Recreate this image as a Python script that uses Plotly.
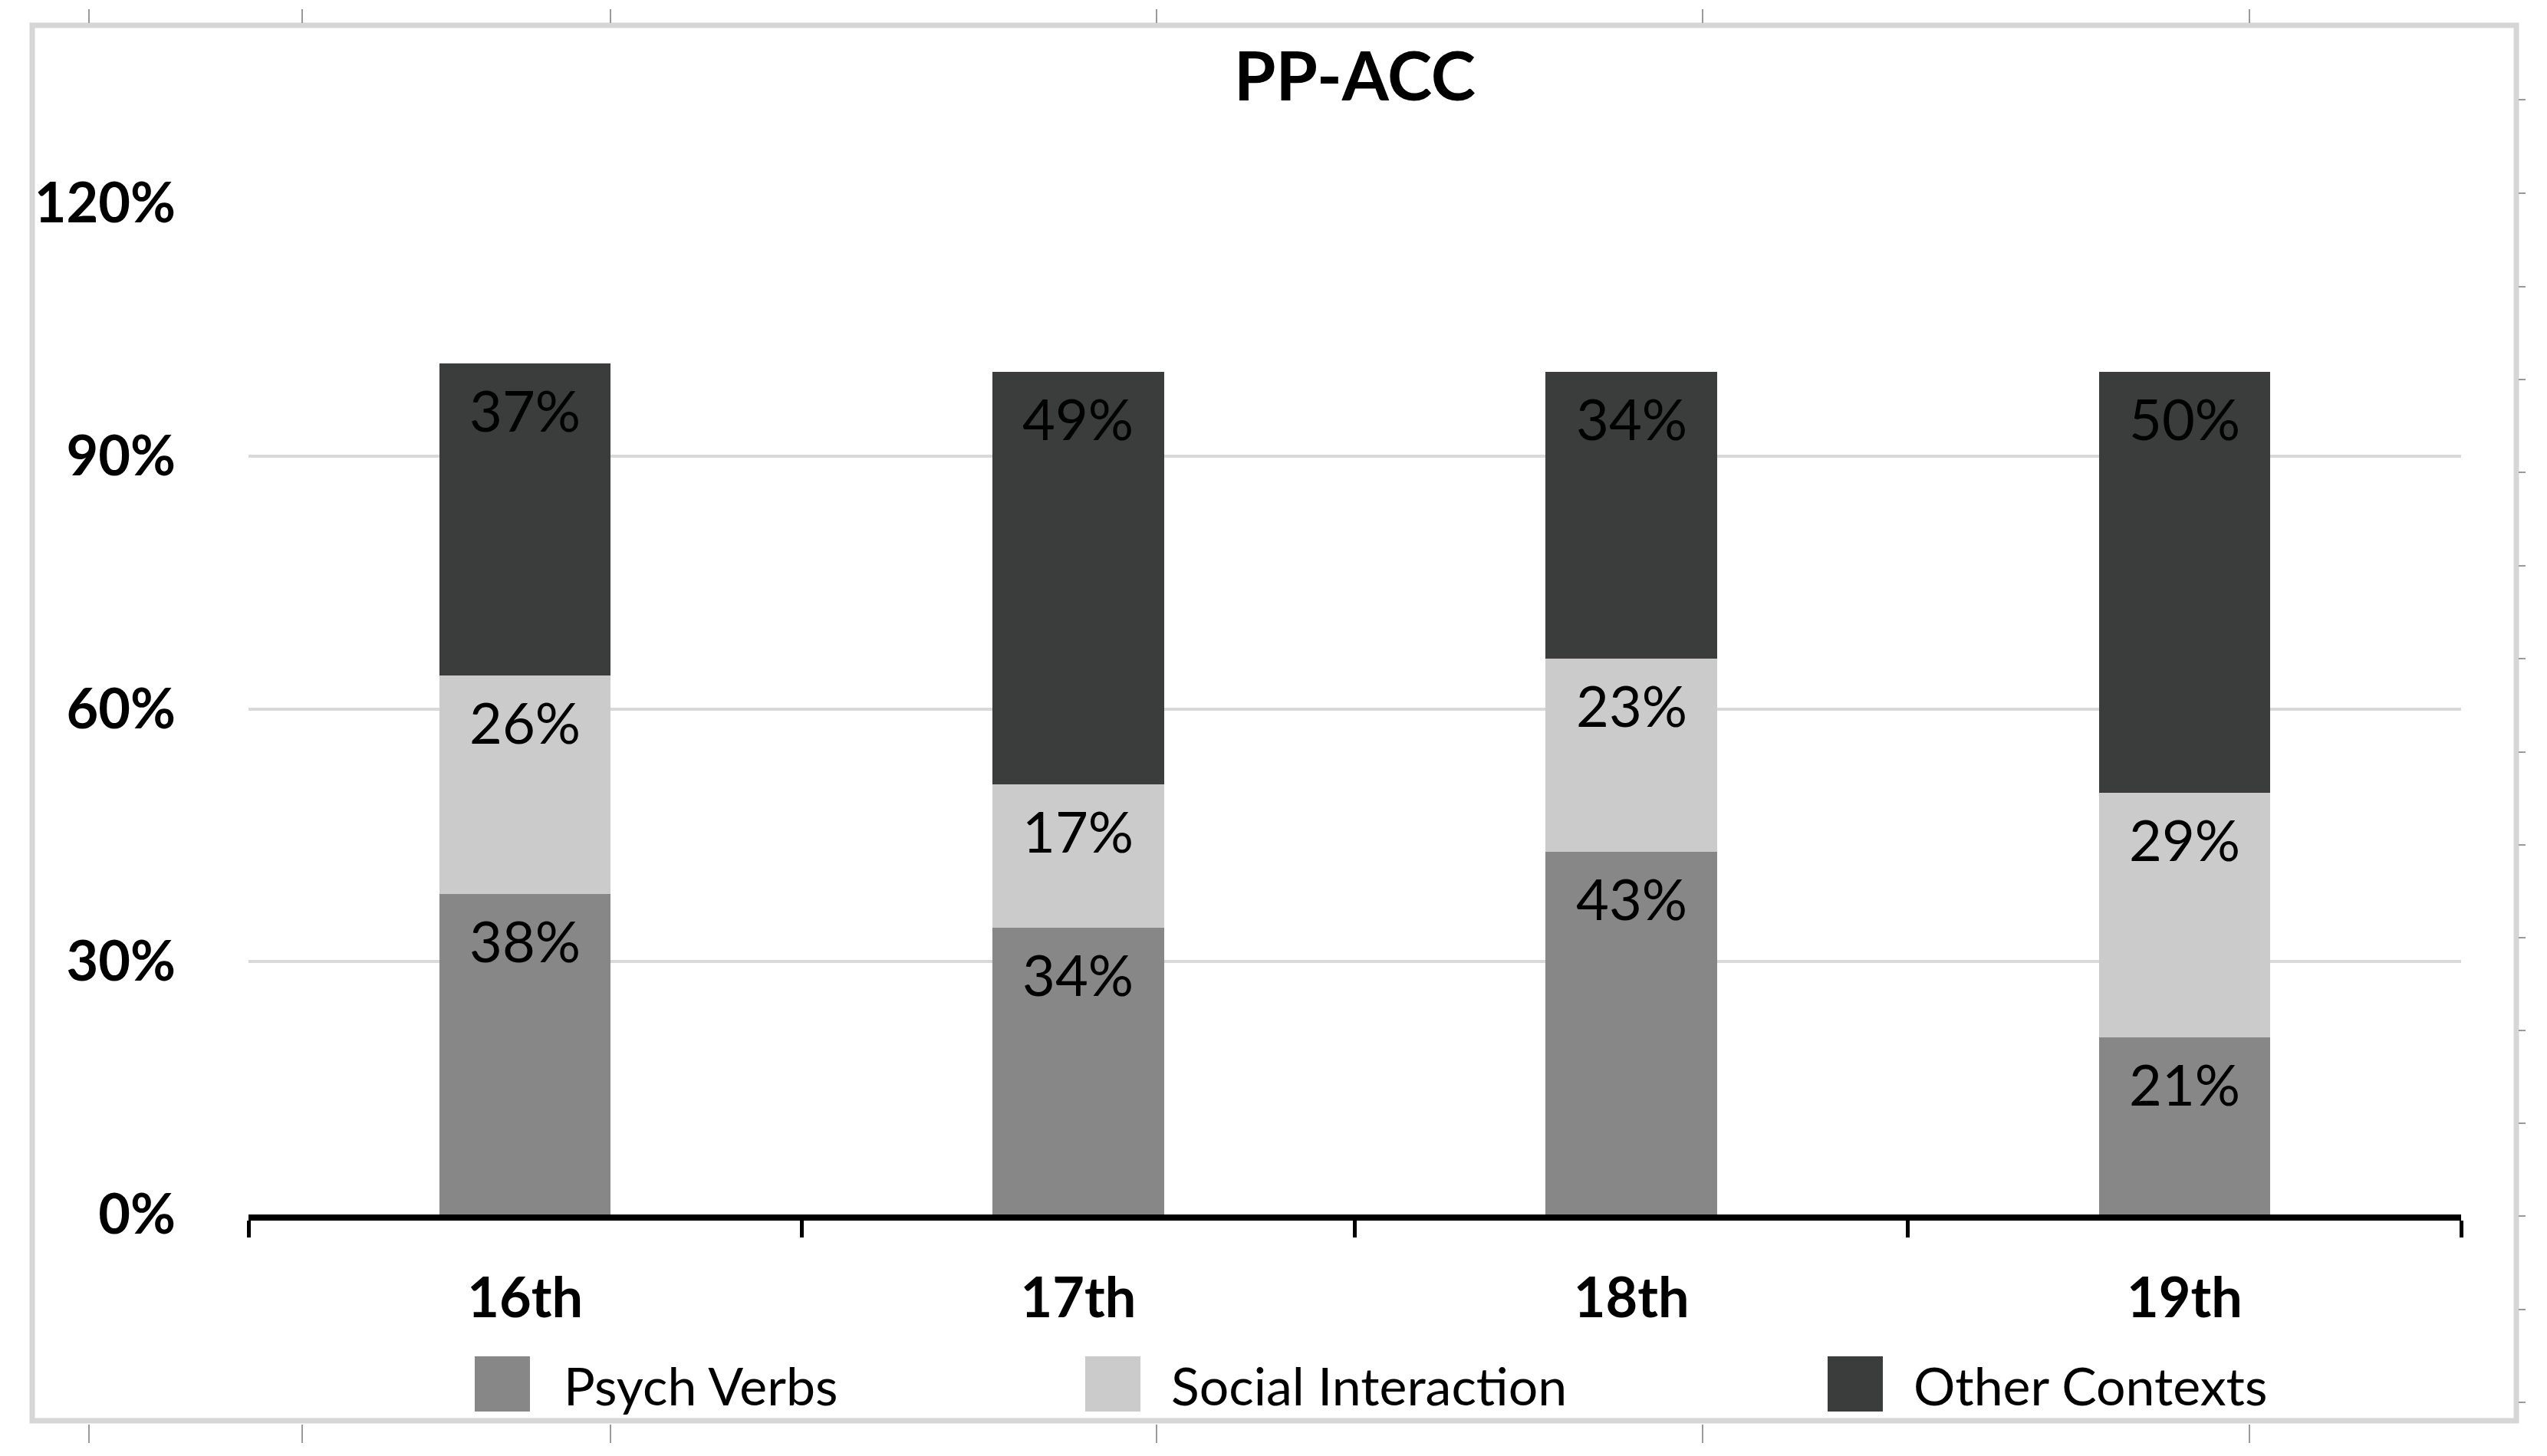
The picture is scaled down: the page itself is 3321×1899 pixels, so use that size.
import plotly.graph_objects as go

# ---------------- data ----------------
categories = ["16th", "17th", "18th", "19th"]
psych_verbs = [38, 34, 43, 21]
social_interaction = [26, 17, 23, 29]
other_contexts = [37, 49, 34, 50]
series_names = ["Psych Verbs", "Social Interaction", "Other Contexts"]
y_tickvals = [0, 30, 60, 90, 120]
y_ticktext = ["0%", "30%", "60%", "90%", "120%"]
chart_title = "PP-ACC"

# ---------------- styles ----------------
series_colors = ["#878787", "#cbcbcb", "#3b3c3c"]
FONT = "Lato"
OFF = 8  # default page body margin; positions below are given in page pixels
W, H = 3321 - 2 * OFF, 1899 - 2 * OFF
PL, PR, PT, PB = 324 - OFF, 3209 - OFF, 265 - OFF, 1584 - OFF  # plot area (figure px)


def px_x(p):
    return (p - OFF - PL) / (PR - PL)


def px_y(p):
    return (PB - (p - OFF)) / (PB - PT)


series_values = [psych_verbs, social_interaction, other_contexts]

fig = go.Figure()
for name, vals, col in zip(series_names, series_values, series_colors):
    fig.add_trace(go.Bar(
        x=categories, y=vals, name=name,
        marker=dict(color=col, line=dict(width=0)),
        showlegend=False, hoverinfo="x+y+name",
    ))

annotations = []
cum = [0] * len(categories)
for vals in series_values:
    for i, (c, v) in enumerate(zip(categories, vals)):
        cum[i] += v
        annotations.append(dict(
            x=c, y=cum[i], xref="x", yref="y", text=f"{v}%",
            showarrow=False, yanchor="top", yshift=-14,
            font=dict(family=FONT, size=74, color="black"),
        ))

# manual legend (large swatches like the reference)
legend_swatch_x = [619, 1415, 2383]
legend_text_x = [733, 1525, 2493]
sw_w, sw_top, sw_bot = 72, 1769, 1841
shapes = []
for name, col, sx, tx in zip(series_names, series_colors, legend_swatch_x, legend_text_x):
    shapes.append(dict(type="rect", xref="paper", yref="paper",
                       x0=px_x(sx), x1=px_x(sx + sw_w), y0=px_y(sw_bot), y1=px_y(sw_top),
                       fillcolor=col, line=dict(width=0), layer="above"))
    annotations.append(dict(x=px_x(tx), y=px_y(1806), xref="paper", yref="paper",
                            text=name, showarrow=False, xanchor="left", yanchor="middle",
                            font=dict(family=FONT, size=68, color="black")))

# outer border of the chart
shapes.append(dict(type="rect", xref="paper", yref="paper",
                   x0=px_x(42), x1=px_x(3281), y0=px_y(1853), y1=px_y(33),
                   line=dict(color="#d6d6d6", width=7), fillcolor="rgba(0,0,0,0)", layer="below"))

# ruler-like marks around the border (decoration in the reference image)
ruler_x = [116, 394, 796, 1508, 2220, 2933]
for rx in ruler_x:
    shapes.append(dict(type="line", xref="paper", yref="paper",
                       x0=px_x(rx), x1=px_x(rx), y0=px_y(12), y1=px_y(30),
                       line=dict(color="#9a9a9a", width=2)))
    shapes.append(dict(type="line", xref="paper", yref="paper",
                       x0=px_x(rx), x1=px_x(rx), y0=px_y(1858), y1=px_y(1882),
                       line=dict(color="#9a9a9a", width=2)))
ruler_y = [130, 252, 374, 495, 616, 738, 859, 981, 1102, 1223, 1344, 1465, 1586, 1708, 1829]
for ry in ruler_y:
    shapes.append(dict(type="line", xref="paper", yref="paper",
                       x0=px_x(3284), x1=px_x(3293), y0=px_y(ry), y1=px_y(ry),
                       line=dict(color="#9a9a9a", width=2)))

fig.update_layout(
    width=W, height=H,
    barmode="stack", bargap=0.69,
    paper_bgcolor="white", plot_bgcolor="white",
    margin=dict(l=PL, r=W - PR, t=PT, b=H - PB, autoexpand=False),
    title=dict(text=f"<b>{chart_title}</b>", x=0.5, xref="paper", xanchor="center",
               y=1 - (100 - OFF) / H, yref="container", yanchor="middle",
               font=dict(family=FONT, size=88, color="black")),
    showlegend=False,
    annotations=annotations,
    shapes=shapes,
    xaxis=dict(
        type="category", showgrid=False, zeroline=False,
        showline=True, linecolor="black", linewidth=8,
        ticks="outside", tickson="boundaries", ticklen=22, tickwidth=5, tickcolor="black",
        tickfont=dict(family=FONT, size=72, color="black", weight="bold"),
        ticklabelstandoff=40,
    ),
    yaxis=dict(
        range=[0, 120], tickvals=y_tickvals, ticktext=y_ticktext,
        showgrid=True, gridcolor="#d9d9d9", gridwidth=4,
        zeroline=False, showline=False, ticks="",
        tickfont=dict(family=FONT, size=72, color="black", weight="bold"),
        ticklabelstandoff=94,
    ),
)

fig.write_html("out.html")
